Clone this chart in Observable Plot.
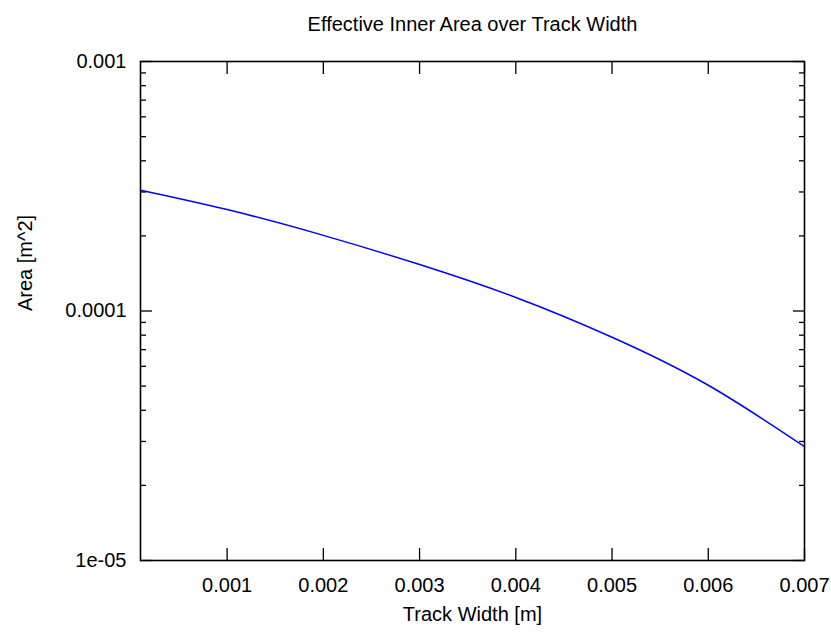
<!DOCTYPE html>
<html>
<head>
<meta charset="utf-8">
<script src="https://cdn.jsdelivr.net/npm/d3@7"></script>
<script src="https://cdn.jsdelivr.net/npm/@observablehq/plot@0.6"></script>
<style>
  html, body { margin: 0; padding: 0; background: #fff; }
</style>
</head>
<body>
<div id="chart"></div>
<script>
// Data
const trackWidth = [0.0001, 0.001, 0.002, 0.003, 0.004, 0.005, 0.006, 0.007];
const innerArea  = [3.05e-4, 2.55e-4, 2.01e-4, 1.535e-4, 1.133e-4, 7.85e-5, 5.04e-5, 2.86e-5];

const xTicks = [0.001, 0.002, 0.003, 0.004, 0.005, 0.006, 0.007];
const xTickLabels = ["0.001", "0.002", "0.003", "0.004", "0.005", "0.006", "0.007"];
const yTicks = [1e-5, 1e-4, 1e-3];
const yTickLabels = ["1e-05", "0.0001", "0.001"];
const yMinorTicks = [2, 3, 4, 5, 6, 7, 8, 9].flatMap(m => [m * 1e-5, m * 1e-4]);

const titleText = "Effective Inner Area over Track Width";
const xLabelText = "Track Width [m]";
const yLabelText = "Area [m^2]";

const data = trackWidth.map((w, i) => ({w, a: innerArea[i]}));
const blank = () => "";
const font = "'Liberation Sans', Arial, Helvetica, sans-serif";

const chart = Plot.plot({
  width: 831,
  height: 635,
  marginLeft: 140,
  marginRight: 27,
  marginTop: 61,
  marginBottom: 75,
  style: {fontFamily: font, fontSize: "20px", background: "#fff", color: "#000"},
  x: {type: "linear", domain: [0.0001, 0.007], axis: null},
  y: {type: "log", domain: [1e-5, 1e-3], axis: null},
  marks: [
    Plot.axisX({anchor: "bottom", ticks: xTicks, tickSize: 12, dy: -12, tickFormat: blank, label: null, strokeWidth: 1.3}),
    Plot.axisX({anchor: "top", ticks: xTicks, tickSize: 12, dy: 12, tickFormat: blank, label: null, strokeWidth: 1.3}),
    Plot.axisY({anchor: "left", ticks: yTicks, tickSize: 12, dx: 12, tickFormat: blank, label: null, strokeWidth: 1.3}),
    Plot.axisY({anchor: "right", ticks: yTicks, tickSize: 12, dx: -12, tickFormat: blank, label: null, strokeWidth: 1.3}),
    Plot.axisY({anchor: "left", ticks: yMinorTicks, tickSize: 6, dx: 6, tickFormat: blank, label: null, strokeWidth: 1.3}),
    Plot.axisY({anchor: "right", ticks: yMinorTicks, tickSize: 6, dx: -6, tickFormat: blank, label: null, strokeWidth: 1.3}),
    Plot.axisX({anchor: "bottom", ticks: xTicks, tickSize: 0, tickPadding: 17, label: null,
      tickFormat: d => xTickLabels[xTicks.indexOf(d)], fontSize: 20}),
    Plot.axisY({anchor: "left", ticks: yTicks, tickSize: 0, tickPadding: 14, label: null,
      tickFormat: d => yTickLabels[yTicks.indexOf(d)], fontSize: 20}),
    Plot.line(data, {x: "w", y: "a", stroke: "#0000ff", strokeWidth: 1.5, curve: "natural"}),
    Plot.frame({stroke: "#000", strokeWidth: 1.6}),
    Plot.text([titleText], {frameAnchor: "top", dy: -37, lineAnchor: "middle", fontSize: 20, fill: "#000"}),
    Plot.text([xLabelText], {frameAnchor: "bottom", dy: 54, lineAnchor: "middle", fontSize: 20, fill: "#000"}),
    Plot.text([yLabelText], {frameAnchor: "left", dx: -115, rotate: -90, lineAnchor: "middle", fontSize: 20, fill: "#000"})
  ]
});

document.getElementById("chart").appendChild(chart);
</script>
</body>
</html>
